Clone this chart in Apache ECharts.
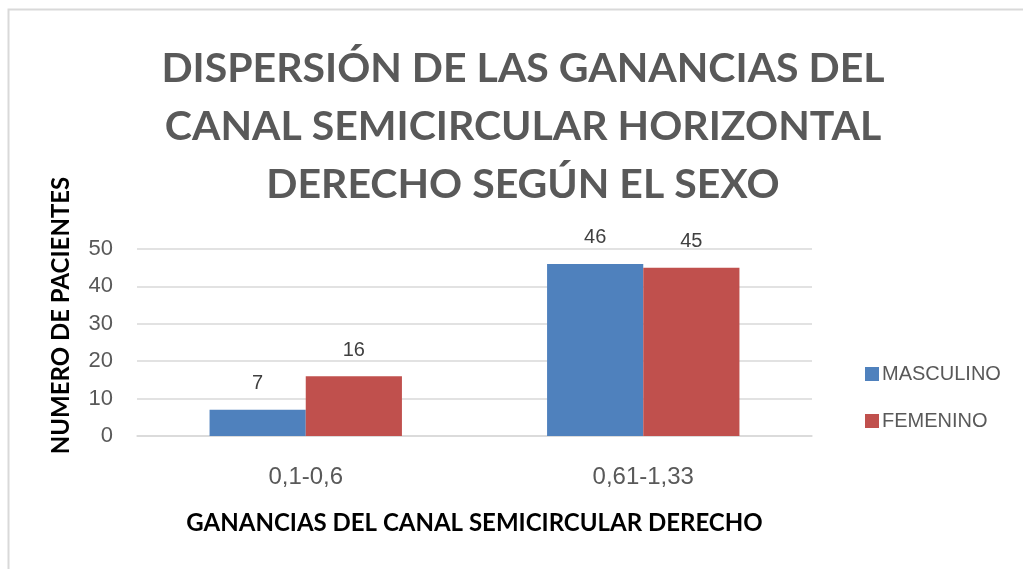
<!DOCTYPE html>
<html>
<head>
<meta charset="utf-8">
<script src="https://cdn.jsdelivr.net/npm/echarts@6/dist/echarts.min.js"></script>
<style>
  html, body { margin: 0; padding: 0; background: #fff; }
  #chart { width: 1023px; height: 569px; }
</style>
</head>
<body>
<div id="chart"></div>
<script>
// datos del gráfico
const categories = ['0,1-0,6', '0,61-1,33'];
const masculino = [7, 46];
const femenino = [16, 45];
const yTicks = [0, 10, 20, 30, 40, 50];

const chart = echarts.init(document.getElementById('chart'));

const labelStyle = {
  show: true,
  position: 'top',
  distance: 16,
  color: '#404040',
  fontFamily: 'Arial, "Liberation Sans", sans-serif',
  fontSize: 20
};

const option = {
  animation: false,
  backgroundColor: '#fff',
  color: ['#4F81BD', '#C0504D'],
  graphic: [
    {
      type: 'rect',
      shape: { x: 8.5, y: 9.5, width: 1030, height: 600 },
      style: { fill: 'none', stroke: '#D9D9D9', lineWidth: 2 },
      silent: true
    }
  ],
  title: {
    text: 'DISPERSIÓN DE LAS GANANCIAS DEL\nCANAL SEMICIRCULAR HORIZONTAL\nDERECHO SEGÚN EL SEXO',
    left: 518,
    textAlign: 'center',
    top: 35,
    textStyle: {
      fontFamily: 'Lato, "Open Sans", sans-serif',
      fontWeight: 'bold',
      fontSize: 41,
      lineHeight: 58,
      color: '#595959',
      align: 'center'
    }
  },
  legend: {
    orient: 'vertical',
    left: 860,
    top: 359,
    itemWidth: 14,
    itemHeight: 14,
    itemGap: 27,
    icon: 'rect',
    textStyle: {
      fontFamily: 'Arial, "Liberation Sans", sans-serif',
      fontSize: 20,
      color: '#595959',
      padding: [0, 0, 0, -2]
    },
    data: ['MASCULINO', 'FEMENINO']
  },
  grid: {
    left: 137,
    right: 211,
    top: 249,
    bottom: 133
  },
  xAxis: {
    type: 'category',
    data: categories,
    name: 'GANANCIAS DEL CANAL SEMICIRCULAR DERECHO',
    nameLocation: 'middle',
    nameGap: 75,
    nameTextStyle: {
      fontFamily: 'Lato, "Open Sans", sans-serif',
      fontWeight: 'bold',
      fontSize: 24,
      color: '#000'
    },
    axisLine: { show: true, lineStyle: { color: '#D9D9D9', width: 1.5 } },
    axisTick: { show: false },
    axisLabel: {
      margin: 29,
      fontFamily: 'Arial, "Liberation Sans", sans-serif',
      fontSize: 24,
      color: '#595959'
    }
  },
  yAxis: {
    type: 'value',
    min: yTicks[0],
    max: yTicks[yTicks.length - 1],
    interval: 10,
    name: 'NUMERO DE PACIENTES',
    nameLocation: 'middle',
    nameGap: 64,
    nameRotate: 90,
    nameTextStyle: {
      fontFamily: 'Lato, "Open Sans", sans-serif',
      fontWeight: 'bold',
      fontSize: 24,
      color: '#000',
      padding: [0, 0, 0, 54]
    },
    axisLine: { show: false },
    axisTick: { show: false },
    axisLabel: {
      margin: 24,
      fontFamily: 'Arial, "Liberation Sans", sans-serif',
      fontSize: 22,
      color: '#595959'
    },
    splitLine: { lineStyle: { color: '#D9D9D9', width: 1.5 } }
  },
  series: [
    {
      name: 'MASCULINO',
      type: 'bar',
      data: masculino,
      barGap: '0%',
      barCategoryGap: '43%',
      label: labelStyle
    },
    {
      name: 'FEMENINO',
      type: 'bar',
      data: femenino,
      label: labelStyle
    }
  ]
};

chart.setOption(option);
</script>
</body>
</html>
